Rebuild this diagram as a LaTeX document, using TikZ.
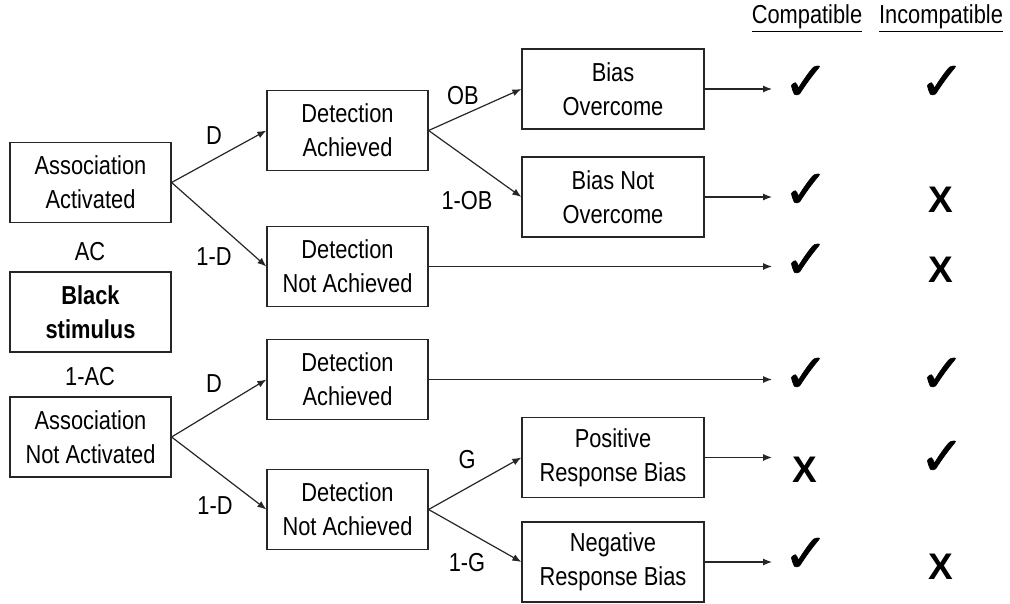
\documentclass[tikz,border=0pt]{standalone}
\usepackage{fontspec}
\setmainfont{Liberation Sans}[FakeStretch=0.84]
\newfontfamily\xfont{Liberation Sans}
\newfontfamily\symfont[FakeBold=1.2]{DejaVu Sans}
\usetikzlibrary{arrows.meta}
\begin{document}
\begin{tikzpicture}[x=1pt,y=-1pt,
 box/.style={draw=black!85,line width=1.2pt,minimum width=161pt,minimum height=80pt,inner sep=0pt,align=center,font=\fontsize{26}{34}\selectfont},
 wbox/.style={box,minimum width=182pt},
 lbl/.style={inner sep=0pt,font=\fontsize{26}{34}\selectfont},
 conn/.style={draw=black!85,line width=1.2pt,-{Latex[length=9pt,width=7pt]}},
 chk/.style={inner sep=0pt,font=\symfont\fontsize{54}{54}\selectfont},
 xmk/.style={inner sep=0pt,font=\xfont\bfseries\fontsize{37}{37}\selectfont},
 hdr/.style={inner sep=0pt,anchor=base,font=\fontsize{26}{34}\selectfont}]
\useasboundingbox (0,0) rectangle (1010,604);
% left column
\node[box] (AA) at (90.5,182.5) {Association\\Activated};
\node[lbl] (AC) at (90,252) {AC};
\node[box,font=\fontsize{26}{34}\selectfont\bfseries] (BS) at (90.5,312) {Black\\stimulus};
\node[lbl] (oneAC) at (90,377) {1-AC};
\node[box] (ANA) at (90.5,437) {Association\\Not Activated};
% middle column
\node[box] (DA1) at (347.5,130.5) {Detection\\Achieved};
\node[box] (DNA1) at (347.5,266.5) {Detection\\Not Achieved};
\node[box] (DA2) at (347.5,379.5) {Detection\\Achieved};
\node[box] (DNA2) at (347.5,509.5) {Detection\\Not Achieved};
% right column
\node[wbox] (BO) at (613,89) {Bias\\Overcome};
\node[wbox] (BNO) at (613,197) {Bias Not\\Overcome};
\node[wbox] (PRB) at (613,457.5) {Positive\\Response Bias};
\node[wbox] (NRB) at (613,562) {Negative\\Response Bias};
% branch labels
\node[lbl] (lD1) at (214,136) {D};
\node[lbl] (l1D1) at (214,257) {1-D};
\node[lbl] (lD2) at (214,384) {D};
\node[lbl] (l1D2) at (215,506) {1-D};
\node[lbl] (lOB) at (463,96) {OB};
\node[lbl] (l1OB) at (467,201) {1-OB};
\node[lbl] (lG) at (467,460) {G};
\node[lbl] (l1G) at (467,563) {1-G};
% connectors
\draw[conn] (AA.east) -- (DA1.west);
\draw[conn] (AA.east) -- (DNA1.west);
\draw[conn] (ANA.east) -- (DA2.west);
\draw[conn] (ANA.east) -- (DNA2.west);
\draw[conn] (DA1.east) -- (BO.west);
\draw[conn] (DA1.east) -- (BNO.west);
\draw[conn] (DNA2.east) -- (PRB.west);
\draw[conn] (DNA2.east) -- (NRB.west);
\coordinate (e1) at (772,89);
\coordinate (e2) at (772,197);
\coordinate (e3) at (772,266.5);
\coordinate (e4) at (772,379.5);
\coordinate (e5) at (772,457.5);
\coordinate (e6) at (772,562);
\draw[conn] (BO.east) -- (e1);
\draw[conn] (BNO.east) -- (e2);
\draw[conn] (DNA1.east) -- (e3);
\draw[conn] (DA2.east) -- (e4);
\draw[conn] (PRB.east) -- (e5);
\draw[conn] (NRB.east) -- (e6);
% headers
\node[hdr] (hC) at (807,24) {\underline{Compatible}};
\node[hdr] (hI) at (941,24) {\underline{Incompatible}};
% marks
\node[chk] (c1a) at (806,83) {✓};
\node[chk] (c1b) at (942,83) {✓};
\node[chk] (c2a) at (806,191) {✓};
\node[xmk] (c2b) at (941,200) {X};
\node[chk] (c3a) at (806,261) {✓};
\node[xmk] (c3b) at (941,270) {X};
\node[chk] (c4a) at (806,375) {✓};
\node[chk] (c4b) at (942,375) {✓};
\node[xmk] (c5a) at (805,470) {X};
\node[chk] (c5b) at (942,458) {✓};
\node[chk] (c6a) at (806,555) {✓};
\node[xmk] (c6b) at (941,567) {X};
\end{tikzpicture}
\end{document}
